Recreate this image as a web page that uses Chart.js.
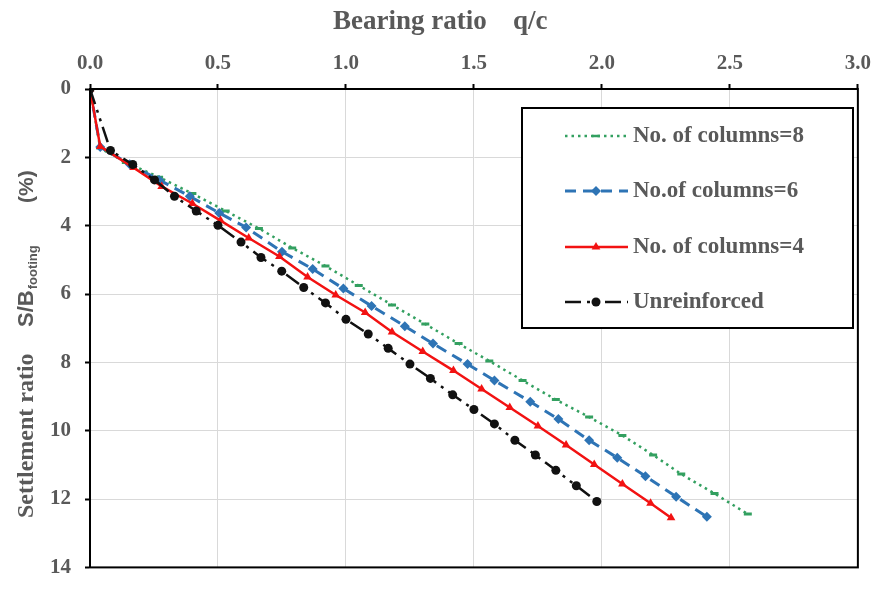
<!DOCTYPE html>
<html>
<head>
<meta charset="utf-8">
<script src="https://cdn.jsdelivr.net/npm/chart.js@4.4.1/dist/chart.umd.min.js"></script>
<style>
  html, body { margin: 0; padding: 0; background: #fff; }
  #wrap { width: 879px; height: 594px; }
</style>
</head>
<body>
<div id="wrap"><canvas id="chart" width="879" height="594"></canvas></div>
<script>
// Bearing ratio q/c (x) and settlement ratio S/B (%) (y)
const xCols8 = [0, 0.04, 0.14, 0.27, 0.40, 0.53, 0.66, 0.79, 0.92, 1.05, 1.18, 1.31, 1.44, 1.56, 1.69, 1.82, 1.95, 2.08, 2.20, 2.31, 2.44, 2.57];
const yCols8 = [0, 1.73, 2.15, 2.58, 3.06, 3.57, 4.08, 4.65, 5.18, 5.75, 6.32, 6.88, 7.45, 7.96, 8.53, 9.09, 9.60, 10.14, 10.71, 11.27, 11.84, 12.44];

const xCols6 = [0, 0.04, 0.155, 0.27, 0.39, 0.505, 0.61, 0.75, 0.87, 0.99, 1.10, 1.23, 1.34, 1.475, 1.58, 1.72, 1.83, 1.95, 2.06, 2.17, 2.29, 2.41];
const yCols6 = [0, 1.70, 2.20, 2.66, 3.14, 3.63, 4.05, 4.76, 5.27, 5.84, 6.35, 6.94, 7.45, 8.05, 8.53, 9.15, 9.66, 10.28, 10.79, 11.33, 11.93, 12.52];

const xCols4 = [0, 0.04, 0.17, 0.28, 0.40, 0.51, 0.62, 0.74, 0.85, 0.96, 1.075, 1.18, 1.30, 1.42, 1.53, 1.64, 1.75, 1.86, 1.97, 2.08, 2.19, 2.27];
const yCols4 = [0, 1.68, 2.30, 2.85, 3.35, 3.85, 4.36, 4.90, 5.50, 6.03, 6.54, 7.11, 7.68, 8.24, 8.78, 9.32, 9.86, 10.42, 10.99, 11.56, 12.12, 12.55];

const xUnreinf = [0, 0.08, 0.167, 0.252, 0.33, 0.415, 0.50, 0.59, 0.668, 0.749, 0.835, 0.92, 1.00, 1.087, 1.165, 1.25, 1.33, 1.417, 1.50, 1.58, 1.66, 1.74, 1.82, 1.90, 1.98];
const yUnreinf = [0, 1.80, 2.21, 2.66, 3.14, 3.57, 3.99, 4.48, 4.93, 5.33, 5.81, 6.26, 6.74, 7.17, 7.59, 8.05, 8.47, 8.95, 9.38, 9.80, 10.28, 10.71, 11.16, 11.61, 12.07];

const xTicks = [0, 0.5, 1.0, 1.5, 2.0, 2.5, 3.0];
const yTicks = [0, 2, 4, 6, 8, 10, 12, 14];

const legendLabels = ['No. of columns=8', 'No.of columns=6', 'No. of columns=4', 'Unreinforced'];

const toPoints = (xs, ys) => xs.map((x, i) => ({ x: x, y: ys[i] }));

const GREY = '#595959';
const SERIF = "'Liberation Serif', 'Times New Roman', serif";
const SANS = "'Liberation Sans', Arial, sans-serif";

const datasets = [
    {
        label: legendLabels[0],
        data: toPoints(xCols8, yCols8),
        borderColor: '#33a060',
        backgroundColor: '#33a060',
        borderWidth: 2.5,
        borderDash: [2.5, 4],
        pointStyle: 'line',
        pointRadius: 4,
        pointBorderWidth: 3,
        order: 4
    },
    {
        label: legendLabels[1],
        data: toPoints(xCols6, yCols6),
        borderColor: '#2e74b5',
        backgroundColor: '#2e74b5',
        borderWidth: 3,
        borderDash: [11, 7],
        pointStyle: 'rectRot',
        pointRadius: 5,
        pointBorderWidth: 0,
        order: 3
    },
    {
        label: legendLabels[2],
        data: toPoints(xCols4, yCols4),
        borderColor: '#f21212',
        backgroundColor: '#f21212',
        borderWidth: 2.5,
        borderDash: [],
        pointStyle: 'triangle',
        pointRadius: 5,
        pointBorderWidth: 0,
        order: 2
    },
    {
        label: legendLabels[3],
        data: toPoints(xUnreinf, yUnreinf),
        borderColor: '#111111',
        backgroundColor: '#111111',
        borderWidth: 2.5,
        borderDash: [16, 6, 3, 6, 3, 6],
        pointStyle: 'circle',
        pointRadius: 4.5,
        pointBorderWidth: 0,
        order: 1
    }
];

// fond blanc, cadre noir, titres et légende
const decor = {
    id: 'decor',
    beforeDraw(chart) {
        const ctx = chart.ctx;
        ctx.save();
        ctx.fillStyle = '#ffffff';
        ctx.fillRect(0, 0, chart.width, chart.height);
        ctx.restore();
    },
    afterDraw(chart) {
        const ctx = chart.ctx;
        const a = chart.chartArea;
        ctx.save();

        // cadre du graphique
        ctx.strokeStyle = '#000';
        ctx.lineWidth = 2;
        ctx.setLineDash([]);
        ctx.strokeRect(a.left, a.top, a.right - a.left, a.bottom - a.top);

        // titre axe x
        ctx.fillStyle = GREY;
        ctx.textBaseline = 'alphabetic';
        ctx.textAlign = 'left';
        ctx.font = 'bold 27px ' + SERIF;
        ctx.fillText('Bearing ratio', 333, 29);
        ctx.fillText('q/c', 513, 29);

        // titre axe y (vertical)
        ctx.save();
        ctx.translate(33, 518);
        ctx.rotate(-Math.PI / 2);
        ctx.font = 'bold 24px ' + SERIF;
        ctx.fillText('Settlement ratio', 0, 0);
        ctx.font = 'bold 22px ' + SANS;
        ctx.fillText('S/B', 518 - 327, 0);
        const sbW = ctx.measureText('S/B').width;
        ctx.font = 'bold 13px ' + SANS;
        ctx.fillText('footing', 518 - 327 + sbW + 1, 4);
        ctx.font = 'bold 21px ' + SANS;
        ctx.fillText('(%)', 518 - 203, 0);
        ctx.restore();

        // légende
        const box = { x: 522, y: 108, w: 331, h: 220 };
        ctx.fillStyle = '#fff';
        ctx.fillRect(box.x, box.y, box.w, box.h);
        ctx.strokeStyle = '#000';
        ctx.lineWidth = 2;
        ctx.strokeRect(box.x, box.y, box.w, box.h);

        const rows = [136, 191, 247, 302];
        chart.data.datasets.forEach((ds, i) => {
            const y = rows[i];
            ctx.strokeStyle = ds.borderColor;
            ctx.lineWidth = ds.borderWidth;
            ctx.setLineDash(ds.borderDash || []);
            ctx.beginPath();
            ctx.moveTo(565, y);
            ctx.lineTo(628, y);
            ctx.stroke();
            ctx.setLineDash([]);
            ctx.fillStyle = ds.backgroundColor;
            ctx.strokeStyle = ds.borderColor;
            Chart.helpers.drawPoint(ctx, {
                pointStyle: ds.pointStyle,
                radius: ds.pointRadius,
                borderWidth: ds.pointBorderWidth,
                rotation: 0
            }, 596, y);
            ctx.fillStyle = GREY;
            ctx.font = 'bold 23px ' + SERIF;
            ctx.textBaseline = 'middle';
            ctx.fillText(ds.label, 633, y);
        });

        ctx.restore();
    }
};

new Chart(document.getElementById('chart'), {
    type: 'scatter',
    data: { datasets: datasets },
    options: {
        responsive: false,
        animation: false,
        showLine: true,
        layout: { padding: { left: 0, top: 0, right: 16, bottom: 11 } },
        plugins: {
            legend: { display: false },
            tooltip: { enabled: false }
        },
        scales: {
            x: {
                type: 'linear',
                position: 'top',
                min: 0,
                max: 3,
                afterFit: s => { s.height = 89; },
                afterBuildTicks: s => { s.ticks = xTicks.map(v => ({ value: v })); },
                ticks: {
                    color: GREY,
                    font: { family: SERIF, size: 21, weight: 'bold' },
                    padding: 8,
                    maxRotation: 0,
                    callback: v => v.toFixed(1)
                },
                grid: { color: '#d9d9d9', lineWidth: 1, tickColor: '#000', tickLength: 5, tickWidth: 2 },
                border: { color: '#000', width: 2 }
            },
            y: {
                type: 'linear',
                reverse: true,
                min: 0,
                max: 14,
                afterFit: s => { s.width = 90; },
                afterBuildTicks: s => { s.ticks = yTicks.map(v => ({ value: v })); },
                ticks: {
                    color: GREY,
                    font: { family: SERIF, size: 21, weight: 'bold' },
                    padding: 14,
                    callback: v => String(v)
                },
                grid: { color: '#d9d9d9', lineWidth: 1, tickColor: '#000', tickLength: 5, tickWidth: 2 },
                border: { color: '#000', width: 2 }
            }
        }
    },
    plugins: [decor]
});
</script>
</body>
</html>
